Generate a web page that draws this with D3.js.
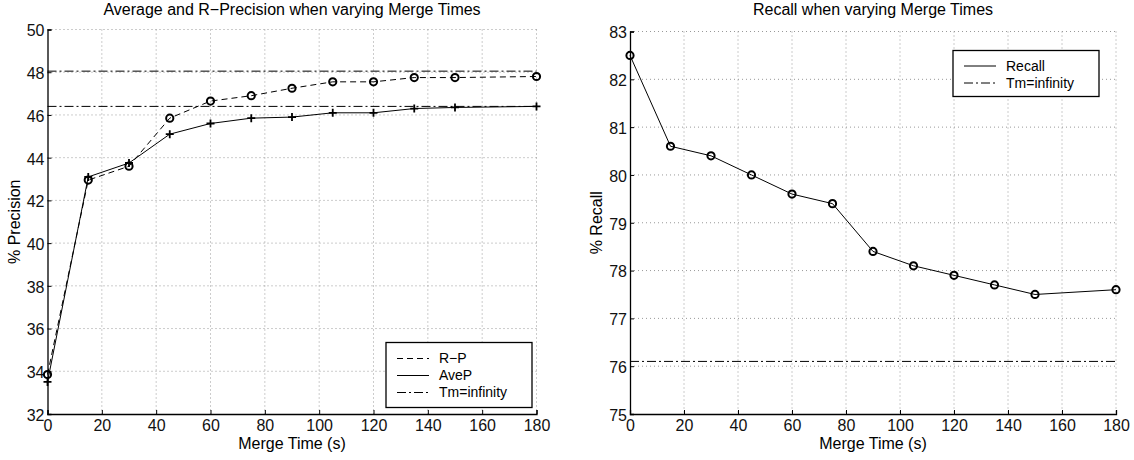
<!DOCTYPE html>
<html>
<head>
<meta charset="utf-8">
<script src="https://cdn.jsdelivr.net/npm/d3@7"></script>
<style>
	body { margin: 0; background: #fff; }
	svg { font-family: "Liberation Sans", Arial, sans-serif; }
</style>
</head>
<body>
<svg id="SVG" width="1134" height="460"></svg>
<script>
// data
var mergeTimes = [0, 15, 30, 45, 60, 75, 90, 105, 120, 135, 150, 180];
var rPrecision = [33.85, 42.95, 43.6, 45.85, 46.65, 46.9, 47.25, 47.55, 47.55, 47.75, 47.75, 47.8];
var aveP = [33.5, 43.1, 43.75, 45.1, 45.6, 45.85, 45.9, 46.1, 46.1, 46.3, 46.35, 46.4];
var tmInfPrecision = [48.05, 46.4];
var recall = [82.5, 80.6, 80.4, 80.0, 79.6, 79.4, 78.4, 78.1, 77.9, 77.7, 77.5, 77.6];
var tmInfRecall = [76.1];
var xTicks = [0, 20, 40, 60, 80, 100, 120, 140, 160, 180];
var precisionTicks = [32, 34, 36, 38, 40, 42, 44, 46, 48, 50];
var recallTicks = [75, 76, 77, 78, 79, 80, 81, 82, 83];

var svg = d3.select("#SVG");

function panel(opt) {
	var x = d3.scaleLinear().domain([0, 180]).range([opt.left, opt.right]);
	var y = d3.scaleLinear().domain(opt.yDomain).range([opt.bottom, opt.top]);
	var g = svg.append("g");

	// grid
	g.append("g").selectAll("line").data(xTicks.slice(1)).enter().append("line")
		.attr("x1", x).attr("x2", x).attr("y1", opt.top).attr("y2", opt.bottom)
		.attr("stroke", "#999").attr("stroke-width", 1).attr("stroke-dasharray", "1,3");
	g.append("g").selectAll("line").data(opt.yTicks.slice(1)).enter().append("line")
		.attr("x1", opt.left).attr("x2", opt.right).attr("y1", y).attr("y2", y)
		.attr("stroke", "#999").attr("stroke-width", 1).attr("stroke-dasharray", "1,3");

	// axes
	var xAxis = g.append("g").attr("transform", "translate(0," + opt.bottom + ")")
		.call(d3.axisBottom(x).tickValues(xTicks).tickSize(-4).tickPadding(6).tickFormat(d3.format("d")));
	var yAxis = g.append("g").attr("transform", "translate(" + opt.left + ",0)")
		.call(d3.axisLeft(y).tickValues(opt.yTicks).tickSize(-4).tickPadding(3).tickFormat(d3.format("d")));
	[xAxis, yAxis].forEach(function(a) {
		a.select(".domain").attr("stroke", "#000").attr("stroke-width", 1.3);
		a.selectAll(".tick line").attr("stroke", "#000");
		a.selectAll("text").attr("font-size", 16).attr("fill", "#111")
			.attr("font-family", "Liberation Sans, Arial, sans-serif");
	});
	yAxis.selectAll("text").attr("dy", "0.4em");

	// titles
	g.append("text").attr("x", (opt.left + opt.right) / 2).attr("y", 15)
		.attr("text-anchor", "middle").attr("font-size", 16).text(opt.title);
	g.append("text").attr("x", (opt.left + opt.right) / 2).attr("y", 449)
		.attr("text-anchor", "middle").attr("font-size", 16).text("Merge Time (s)");
	g.append("text").attr("transform", "translate(" + (opt.left - 28) + "," + ((opt.top + opt.bottom) / 2) + ")rotate(-90)")
		.attr("text-anchor", "middle").attr("font-size", 16).text(opt.yLabel);

	// horizontal reference lines
	g.append("g").selectAll("line").data(opt.refs).enter().append("line")
		.attr("x1", x(0)).attr("x2", x(180)).attr("y1", y).attr("y2", y)
		.attr("stroke", "#000").attr("stroke-width", 1).attr("stroke-dasharray", "9,3,2,3");

	var line = d3.line().x(function(d) { return x(d[0]); }).y(function(d) { return y(d[1]); });
	opt.series.forEach(function(s) {
		var pts = mergeTimes.map(function(t, i) { return [t, s.values[i]]; });
		g.append("path").attr("d", line(pts)).attr("fill", "none")
			.attr("stroke", "#000").attr("stroke-width", 1)
			.attr("stroke-dasharray", s.dash || null);
		var m = g.append("g").selectAll("g").data(pts).enter().append("g")
			.attr("transform", function(d) { return "translate(" + x(d[0]) + "," + y(d[1]) + ")"; });
		if (s.marker == "circle") {
			m.append("circle").attr("r", 3.6).attr("fill", "none").attr("stroke", "#000").attr("stroke-width", 2);
		} else {
			m.append("path").attr("d", "M-4,0H4M0,-4V4").attr("stroke", "#000").attr("stroke-width", 1.8);
		}
	});

	// legend
	var lg = g.append("g").attr("transform", "translate(" + opt.legend.x + "," + opt.legend.y + ")");
	lg.append("rect").attr("width", opt.legend.w).attr("height", opt.legend.h)
		.attr("fill", "#fff").attr("stroke", "#000").attr("stroke-width", 1.3);
	var row = lg.selectAll("g").data(opt.legend.items).enter().append("g")
		.attr("transform", function(d, i) { return "translate(0," + (opt.legend.first + i * 17) + ")"; });
	row.append("line").attr("x1", 11).attr("x2", 43).attr("stroke", "#000").attr("stroke-width", 1)
		.attr("stroke-dasharray", function(d) { return d.dash || null; });
	row.append("text").attr("x", 53).attr("dy", "0.35em").attr("font-size", 14).text(function(d) { return d.name; });
}

panel({
	left: 47.5, right: 536.5, top: 29.5, bottom: 414,
	yDomain: [32, 50], yTicks: precisionTicks,
	title: "Average and R\u2212Precision when varying Merge Times",
	yLabel: "% Precision",
	refs: tmInfPrecision,
	series: [
		{ values: rPrecision, dash: "6,4", marker: "circle" },
		{ values: aveP, marker: "plus" }
	],
	legend: { x: 386, y: 342.5, w: 146, h: 65, first: 16, items: [
		{ name: "R\u2212P", dash: "6,4" },
		{ name: "AveP" },
		{ name: "Tm=infinity", dash: "9,3,2,3" }
	] }
});

panel({
	left: 630, right: 1116, top: 31.5, bottom: 414,
	yDomain: [75, 83], yTicks: recallTicks,
	title: "Recall when varying Merge Times",
	yLabel: "% Recall",
	refs: tmInfRecall,
	series: [
		{ values: recall, marker: "circle" }
	],
	legend: { x: 953, y: 50.5, w: 146, h: 46, first: 15.5, items: [
		{ name: "Recall" },
		{ name: "Tm=infinity", dash: "9,3,2,3" }
	] }
});
</script>
</body>
</html>
